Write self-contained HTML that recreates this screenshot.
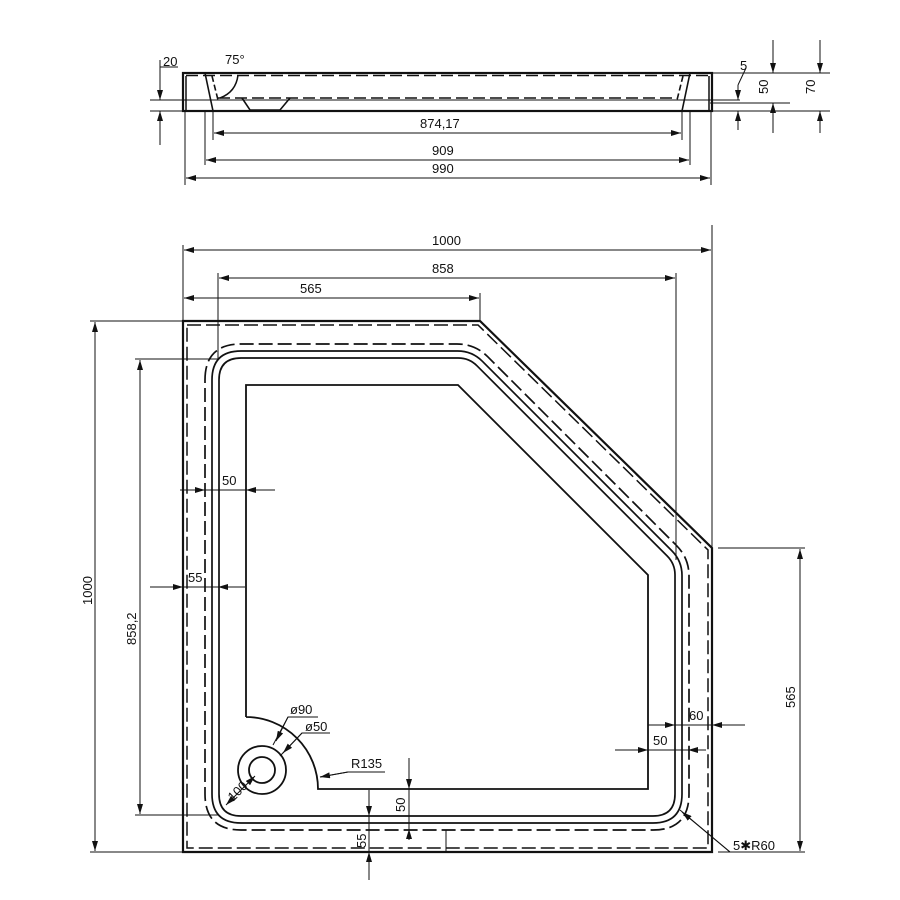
<!DOCTYPE html>
<html><head><style>
html,body{margin:0;padding:0;background:#fff;}
svg{display:block;}
text{font-family:"Liberation Sans",sans-serif;font-size:13px;fill:#111;}
</style></head><body>
<svg width="900" height="900" viewBox="0 0 900 900" xmlns="http://www.w3.org/2000/svg">
<defs>
<marker id="a" viewBox="0 0 10 6" refX="10" refY="3" markerWidth="10" markerHeight="6" orient="auto-start-reverse" markerUnits="userSpaceOnUse"><path d="M0,0L10,3L0,6z" fill="#111"/></marker>
</defs>
<g stroke="#111" fill="none" stroke-width="1">
<!-- TOP VIEW -->
<rect x="183" y="73" width="529" height="38" stroke-width="2.2"/>
<line x1="186" y1="75.5" x2="709" y2="75.5" stroke-width="1.6" stroke-dasharray="12,5"/>
<line x1="150" y1="100" x2="740" y2="100"/>
<line x1="150" y1="111" x2="185" y2="111"/>
<line x1="710" y1="103" x2="790" y2="103"/>
<line x1="710" y1="111" x2="830" y2="111"/>
<line x1="712" y1="73" x2="830" y2="73"/>
<line x1="205" y1="73" x2="213" y2="111" stroke-width="1.6"/>
<line x1="690" y1="73" x2="682" y2="111" stroke-width="1.6"/>
<line x1="212" y1="76" x2="218" y2="100" stroke-width="1.6" stroke-dasharray="6,3"/>
<line x1="683" y1="76" x2="677" y2="100" stroke-width="1.6" stroke-dasharray="6,3"/>
<line x1="218" y1="98" x2="676" y2="98" stroke-width="1.6" stroke-dasharray="12,5"/>
<path d="M238,75 Q236,92 220,98" stroke-width="1.5"/>
<path d="M242,98 L250,110 L280,110 L290,98" stroke-width="1.6"/>
<line x1="186" y1="76" x2="186" y2="110" stroke-width="1.5"/>
<line x1="709" y1="76" x2="709" y2="110" stroke-width="1.5"/>
<!-- 20 dim -->
<line x1="160" y1="60" x2="160" y2="100" marker-end="url(#a)"/>
<line x1="160" y1="145" x2="160" y2="111" marker-end="url(#a)"/>
<line x1="160" y1="67" x2="178" y2="67"/>
<!-- bottom dims top view -->
<line x1="213" y1="111" x2="213" y2="140"/><line x1="682" y1="111" x2="682" y2="140"/>
<line x1="205" y1="111" x2="205" y2="165"/><line x1="690" y1="111" x2="690" y2="165"/>
<line x1="185" y1="111" x2="185" y2="185"/><line x1="711" y1="111" x2="711" y2="185"/>
<line x1="214" y1="133" x2="681" y2="133" marker-start="url(#a)" marker-end="url(#a)"/>
<line x1="206" y1="160" x2="689" y2="160" marker-start="url(#a)" marker-end="url(#a)"/>
<line x1="186" y1="178" x2="710" y2="178" marker-start="url(#a)" marker-end="url(#a)"/>
<!-- right dims top view -->
<line x1="738" y1="85" x2="738" y2="100" marker-end="url(#a)"/>
<line x1="738" y1="130" x2="738" y2="111" marker-end="url(#a)"/>
<line x1="738" y1="85" x2="746" y2="68"/>
<line x1="773" y1="40" x2="773" y2="73" marker-end="url(#a)"/>
<line x1="773" y1="133" x2="773" y2="103" marker-end="url(#a)"/>
<line x1="820" y1="40" x2="820" y2="73" marker-end="url(#a)"/>
<line x1="820" y1="133" x2="820" y2="111" marker-end="url(#a)"/>

<!-- PLAN -->
<path d="M183,321 L480,321 L712,548 L712,852 L183,852 Z" stroke-width="2.2"/>
<path d="M187,325 L478,325 L708,550 L708,848 L187,848 Z" stroke-width="1.5" stroke-dasharray="14,5"/>
<path d="M219,380 Q219,358 241,358 L458.2,358 Q469.2,358 477,365.8 L667.2,556 Q675,563.8 675,574.8 L675,794 Q675,816 653,816 L241,816 Q219,816 219,794 Z" stroke-width="1.7"/>
<path d="M212,380 Q212,351 241,351 L457.6,351 Q472.1,351 482.4,361.3 L671.7,550.6 Q682,560.9 682,575.4 L682,794 Q682,823 653,823 L241,823 Q212,823 212,794 Z" stroke-width="1.7"/>
<path d="M205,380 Q205,344 241,344 L457,344 Q475,344 487.7,356.7 L676.3,545.3 Q689,558 689,576 L689,794 Q689,830 653,830 L241,830 Q205,830 205,794 Z" stroke-width="1.7" stroke-dasharray="14,5"/>
<path d="M246,717 L246,385 L458,385 L648,575 L648,789 L318,789 A72,72 0 0 0 246,717" stroke-width="1.8"/>
<circle cx="262" cy="770" r="24" stroke-width="1.8"/>
<circle cx="262" cy="770" r="13" stroke-width="1.8"/>

<!-- plan dims -->
<line x1="183" y1="245" x2="183" y2="321"/><line x1="712" y1="225" x2="712" y2="548"/>
<line x1="184" y1="250" x2="711" y2="250" marker-start="url(#a)" marker-end="url(#a)"/>
<line x1="218" y1="273" x2="218" y2="360"/><line x1="676" y1="273" x2="676" y2="560"/>
<line x1="219" y1="278" x2="675" y2="278" marker-start="url(#a)" marker-end="url(#a)"/>
<line x1="480" y1="293" x2="480" y2="321"/>
<line x1="184" y1="298" x2="479" y2="298" marker-start="url(#a)" marker-end="url(#a)"/>
<line x1="90" y1="321" x2="183" y2="321"/><line x1="90" y1="852" x2="183" y2="852"/>
<line x1="95" y1="322" x2="95" y2="851" marker-start="url(#a)" marker-end="url(#a)"/>
<line x1="135" y1="359" x2="218" y2="359"/><line x1="135" y1="815" x2="218" y2="815"/>
<line x1="140" y1="360" x2="140" y2="814" marker-start="url(#a)" marker-end="url(#a)"/>
<line x1="205" y1="490" x2="275" y2="490"/>
<line x1="180" y1="490" x2="205" y2="490" marker-end="url(#a)"/>
<line x1="275" y1="490" x2="246" y2="490" marker-end="url(#a)"/>
<line x1="150" y1="587" x2="183" y2="587" marker-end="url(#a)"/>
<line x1="245" y1="587" x2="218" y2="587" marker-end="url(#a)"/>
<line x1="183" y1="587" x2="218" y2="587"/>
<line x1="648" y1="725" x2="675" y2="725" marker-end="url(#a)"/>
<line x1="745" y1="725" x2="712" y2="725" marker-end="url(#a)"/>
<line x1="675" y1="725" x2="712" y2="725"/>
<line x1="615" y1="750" x2="648" y2="750" marker-end="url(#a)"/>
<line x1="706" y1="750" x2="688" y2="750" marker-end="url(#a)"/>
<line x1="648" y1="750" x2="688" y2="750"/>
<line x1="718" y1="548" x2="805" y2="548"/><line x1="718" y1="852" x2="805" y2="852"/>
<line x1="800" y1="549" x2="800" y2="851" marker-start="url(#a)" marker-end="url(#a)"/>
<polyline points="680,810 730,852 780,852"/>
<line x1="730" y1="852" x2="682" y2="812" marker-end="url(#a)"/>
<polyline points="385,772 348,772 320,777"/>
<line x1="348" y1="772" x2="320" y2="777" marker-end="url(#a)"/>
<polyline points="318,717 288,717 273,745"/>
<line x1="288" y1="717" x2="276" y2="741" marker-end="url(#a)"/>
<polyline points="330,733 302,733 280,756"/>
<line x1="302" y1="733" x2="283" y2="753" marker-end="url(#a)"/>
<line x1="226" y1="805" x2="255" y2="776" marker-start="url(#a)" marker-end="url(#a)"/>
<line x1="409" y1="758" x2="409" y2="789" marker-end="url(#a)"/>
<line x1="409" y1="829" x2="409" y2="789"/>
<line x1="409" y1="840" x2="409" y2="829" marker-end="url(#a)"/>
<line x1="369" y1="790" x2="369" y2="816" marker-end="url(#a)"/>
<line x1="369" y1="880" x2="369" y2="852" marker-end="url(#a)"/>
<line x1="369" y1="816" x2="369" y2="852"/>
<line x1="446" y1="830" x2="446" y2="852"/>
</g>
<g>
<text x="163" y="66">20</text>
<text x="225" y="64">75°</text>
<text x="420" y="128">874,17</text>
<text x="432" y="155">909</text>
<text x="432" y="173">990</text>
<text x="740" y="70">5</text>
<text transform="translate(768,94) rotate(-90)">50</text>
<text transform="translate(815,94) rotate(-90)">70</text>
<text x="432" y="245">1000</text>
<text x="432" y="273">858</text>
<text x="300" y="293">565</text>
<text transform="translate(92,605) rotate(-90)">1000</text>
<text transform="translate(136,645) rotate(-90)">858,2</text>
<text x="222" y="485">50</text>
<text x="188" y="582">55</text>
<text x="689" y="720">60</text>
<text x="653" y="745">50</text>
<text transform="translate(795,708) rotate(-90)">565</text>
<text x="733" y="850">5✱R60</text>
<text x="351" y="768">R135</text>
<text x="290" y="714">ø90</text>
<text x="305" y="731">ø50</text>
<text transform="translate(233,802) rotate(-45)">100</text>
<text transform="translate(405,812) rotate(-90)">50</text>
<text transform="translate(366,848) rotate(-90)">55</text>
</g>
</svg>
</body></html>
